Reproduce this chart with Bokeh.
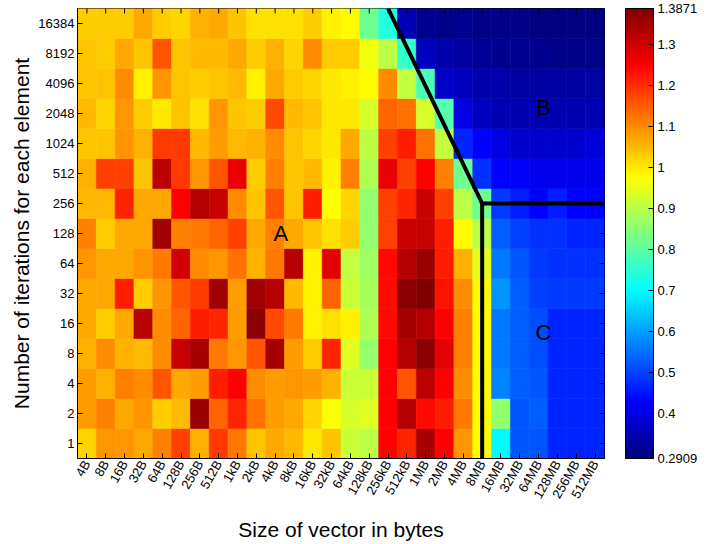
import math
from bokeh.plotting import figure
from bokeh.models import (ColumnDataSource, LinearColorMapper, ColorBar, FixedTicker, Label)
from bokeh.embed import file_html
from bokeh.resources import INLINE

# ---------------- data ----------------
vector_sizes = ["4B", "8B", "16B", "32B", "64B", "128B", "256B", "512B", "1kB", "2kB",
                "4kB", "8kB", "16kB", "32kB", "64kB", "128kB", "256kB", "512kB", "1MB", "2MB",
                "4MB", "8MB", "16MB", "32MB", "64MB", "128MB", "256MB", "512MB"]
iteration_labels = ["1", "2", "4", "8", "16", "32", "64", "128", "256", "512",
                    "1024", "2048", "4096", "8192", "16384"]

# one list per iteration count, values follow vector_sizes
iter_1 = [1.02, 1.09, 1.09, 1.07, 1.11, 1.18, 1.06, 1.19, 1.12, 1.04,
          1.07, 1.05, 1.00, 1.04, 0.92, 0.90, 1.25, 1.21, 1.34, 1.25,
          1.09, 0.98, 0.70, 0.52, 0.52, 0.47, 0.47, 0.47]
iter_2 = [1.08, 1.11, 1.07, 1.09, 1.03, 1.05, 1.36, 1.14, 1.21, 1.13,
          1.08, 1.07, 1.02, 0.97, 0.93, 0.94, 1.25, 1.33, 1.24, 1.22,
          1.12, 0.98, 0.86, 0.52, 0.53, 0.47, 0.47, 0.47]
iter_4 = [1.08, 1.06, 1.11, 1.10, 1.16, 1.07, 1.08, 1.22, 1.25, 1.10,
          1.08, 1.09, 1.08, 1.06, 0.92, 0.92, 1.25, 1.16, 1.32, 1.25,
          1.10, 0.98, 0.57, 0.53, 0.52, 0.47, 0.47, 0.47]
iter_8 = [1.06, 1.10, 1.06, 1.05, 1.10, 1.31, 1.34, 1.12, 1.09, 1.16,
          1.34, 1.08, 1.03, 1.21, 0.94, 0.86, 1.25, 1.33, 1.37, 1.28,
          1.11, 0.98, 0.56, 0.53, 0.51, 0.47, 0.47, 0.47]
iter_16 = [1.07, 1.03, 1.07, 1.33, 1.10, 1.14, 1.22, 1.21, 1.08, 1.37,
           1.17, 1.12, 0.99, 1.01, 0.99, 0.89, 1.24, 1.34, 1.33, 1.25,
           1.11, 0.98, 0.56, 0.53, 0.51, 0.47, 0.47, 0.47]
iter_32 = [1.07, 1.07, 1.22, 1.03, 1.09, 1.16, 1.19, 1.35, 1.08, 1.35,
           1.33, 1.05, 0.99, 1.14, 0.92, 0.88, 1.24, 1.37, 1.3871, 1.23,
           1.10, 0.98, 0.59, 0.53, 0.50, 0.49, 0.49, 0.49]
iter_64 = [1.09, 1.07, 1.07, 1.09, 1.12, 1.30, 1.10, 1.09, 1.13, 1.06,
           1.12, 1.33, 0.99, 1.28, 0.91, 0.87, 1.24, 1.33, 1.36, 1.22,
           1.06, 0.95, 0.56, 0.52, 0.49, 0.48, 0.48, 0.48]
iter_128 = [1.11, 1.03, 1.07, 1.07, 1.35, 1.11, 1.12, 1.14, 1.18, 1.07,
            1.11, 1.07, 1.04, 1.01, 1.03, 0.86, 1.18, 1.31, 1.31, 1.22,
            0.98, 0.90, 0.53, 0.50, 0.48, 0.48, 0.47, 0.47]
iter_256 = [1.05, 1.05, 1.21, 1.07, 1.07, 1.25, 1.33, 1.31, 1.10, 1.04,
            1.16, 1.04, 1.22, 0.975, 1.02, 0.86, 1.18, 1.21, 1.31, 1.18,
            0.90, 0.82, 0.49, 0.46, 0.43, 0.46, 0.43, 0.43]
iter_512 = [1.06, 1.18, 1.18, 1.04, 1.32, 1.19, 1.09, 1.16, 1.27, 1.03,
            1.11, 1.04, 1.05, 0.99, 1.11, 0.89, 1.27, 1.18, 1.25, 1.11,
            0.82, 0.48, 0.43, 0.42, 0.41, 0.41, 0.41, 0.41]
iter_1024 = [1.04, 1.04, 1.09, 1.06, 1.19, 1.19, 1.05, 1.08, 1.05, 1.06,
             1.10, 1.04, 1.02, 1.00, 1.07, 0.90, 1.18, 1.22, 1.13, 0.91,
             0.47, 0.43, 0.40, 0.38, 0.38, 0.38, 0.38, 0.39]
iter_2048 = [1.05, 1.02, 1.09, 1.03, 1.00, 1.04, 1.01, 1.09, 1.04, 1.03,
             1.17, 1.05, 1.04, 1.00, 1.00, 0.93, 1.14, 1.13, 0.93, 0.79,
             0.40, 0.36, 0.35, 0.35, 0.35, 0.35, 0.35, 0.35]
iter_4096 = [1.04, 1.04, 1.10, 0.99, 1.09, 1.04, 1.03, 1.04, 1.05, 0.99,
             1.07, 1.03, 1.02, 1.00, 0.99, 0.98, 1.10, 0.91, 0.78, 0.37,
             0.36, 0.34, 0.34, 0.33, 0.33, 0.33, 0.33, 0.33]
iter_8192 = [1.04, 1.03, 1.07, 1.04, 1.16, 1.04, 1.05, 1.05, 1.07, 1.03,
             1.06, 1.02, 1.10, 1.03, 1.03, 0.96, 0.90, 0.76, 0.36, 0.34,
             0.33, 0.32, 0.31, 0.31, 0.31, 0.30, 0.30, 0.30]
iter_16384 = [1.03, 1.03, 1.03, 1.07, 1.03, 1.02, 1.06, 1.07, 1.04, 1.01,
              1.01, 1.01, 1.03, 0.99, 0.98, 0.82, 0.74, 0.35, 0.31, 0.30,
              0.31, 0.30, 0.30, 0.30, 0.2909, 0.29, 0.29, 0.29]

rows = [iter_1, iter_2, iter_4, iter_8, iter_16, iter_32, iter_64, iter_128,
        iter_256, iter_512, iter_1024, iter_2048, iter_4096, iter_8192, iter_16384]

cbar_low = 0.2909
cbar_high = 1.3871
cbar_ticks = [0.2909, 0.4, 0.5, 0.6, 0.7, 0.8, 0.9, 1, 1.1, 1.2, 1.3, 1.3871]
cbar_tick_labels = ["0.2909", "0.4", "0.5", "0.6", "0.7", "0.8", "0.9", "1",
                    "1.1", "1.2", "1.3", "1.3871"]

region_names = ["A", "B", "C"]

# ---------------- jet colormap ----------------
def jet(n=256):
    out = []
    for i in range(n):
        t = i / (n - 1)
        r = min(max(1.5 - abs(4 * t - 3), 0), 1)
        g = min(max(1.5 - abs(4 * t - 2), 0), 1)
        b = min(max(1.5 - abs(4 * t - 1), 0), 1)
        out.append("#%02x%02x%02x" % (round(r * 255), round(g * 255), round(b * 255)))
    return out

mapper = LinearColorMapper(palette=jet(256), low=cbar_low, high=cbar_high)

xs, ys, vs = [], [], []
for ri, row in enumerate(rows):
    for ci, v in enumerate(row):
        xs.append(ci)
        ys.append(ri)
        vs.append(v)
src = ColumnDataSource(dict(x=xs, y=ys, v=vs))

FONT = "Liberation Sans"
nx, ny = len(vector_sizes), len(iteration_labels)
FRAME_W, FRAME_H = 527, 450
TICK_PX = 5

p = figure(width=717, height=544, x_range=(-0.5, nx - 0.5), y_range=(-0.5, ny - 0.5),
           output_backend="svg", toolbar_location=None,
           min_border_left=77, min_border_right=113, min_border_top=8, min_border_bottom=86,
           x_axis_label="Size of vector in bytes",
           y_axis_label="Number of iterations for each element")
p.xgrid.visible = False
p.ygrid.visible = False
p.outline_line_color = "black"
p.background_fill_color = "white"
p.border_fill_color = "white"

p.rect(x="x", y="y", width=1, height=1, source=src,
       fill_color={"field": "v", "transform": mapper},
       line_color={"field": "v", "transform": mapper}, line_width=0.6)

# region boundaries
top_x = vector_sizes.index("256kB")
corner_x = vector_sizes.index("8MB")
corner_y = iteration_labels.index("256")
p.line([top_x, corner_x, corner_x], [ny - 0.5, corner_y, -0.5],
       line_color="black", line_width=4, line_join="miter")
p.line([corner_x, nx - 0.5], [corner_y, corner_y],
       line_color="black", line_width=4, line_join="miter")

for name, lx, ly in zip(region_names, [10.3, 24.26, 24.26], [7.0, 11.2, 3.7]):
    p.add_layout(Label(x=lx, y=ly, text=name, text_font=FONT, text_font_size="22px",
                       text_color="black", text_align="center", text_baseline="middle"))

# inward ticks along the top and right edges of the box
tick_dy = TICK_PX * ny / FRAME_H
tick_dx = TICK_PX * nx / FRAME_W
xt = list(range(nx))
yt = list(range(ny))
p.segment(x0=xt, x1=xt, y0=[ny - 0.5] * nx, y1=[ny - 0.5 - tick_dy] * nx,
          line_color="black", line_width=1)
p.segment(x0=[nx - 0.5] * ny, x1=[nx - 0.5 - tick_dx] * ny, y0=yt, y1=yt,
          line_color="black", line_width=1)

def style(ax):
    ax.major_tick_in = TICK_PX
    ax.major_tick_out = 0
    ax.minor_tick_line_color = None
    ax.axis_line_color = "black"
    ax.major_tick_line_color = "black"
    ax.major_label_text_font = FONT
    ax.major_label_text_font_size = "13px"
    ax.major_label_text_color = "black"
    ax.axis_label_text_font = FONT
    ax.axis_label_text_font_size = "21px"
    ax.axis_label_text_font_style = "normal"
    ax.axis_label_text_color = "black"

xa = p.xaxis[0]
xa.ticker = FixedTicker(ticks=xt)
xa.major_label_overrides = {i: s for i, s in enumerate(vector_sizes)}
xa.major_label_orientation = math.pi / 3
xa.major_label_standoff = 3
xa.axis_label_standoff = 10
style(xa)

ya = p.yaxis[0]
ya.ticker = FixedTicker(ticks=yt)
ya.major_label_overrides = {i: s for i, s in enumerate(iteration_labels)}
ya.major_label_standoff = 3
ya.axis_label_standoff = 2
style(ya)

cb = ColorBar(color_mapper=mapper, ticker=FixedTicker(ticks=cbar_ticks),
              major_label_overrides=dict(zip(cbar_ticks, cbar_tick_labels)),
              width=28, height=450, location=(21, 0), padding=0, margin=0,
              major_tick_in=5, major_tick_out=0, major_tick_line_color="black",
              minor_tick_line_color=None,
              bar_line_color="black", label_standoff=4,
              major_label_text_font=FONT, major_label_text_font_size="13px",
              major_label_text_color="black",
              border_line_color=None, background_fill_color=None)
p.add_layout(cb, "right")

open("out.html", "w").write(file_html(p, INLINE))
